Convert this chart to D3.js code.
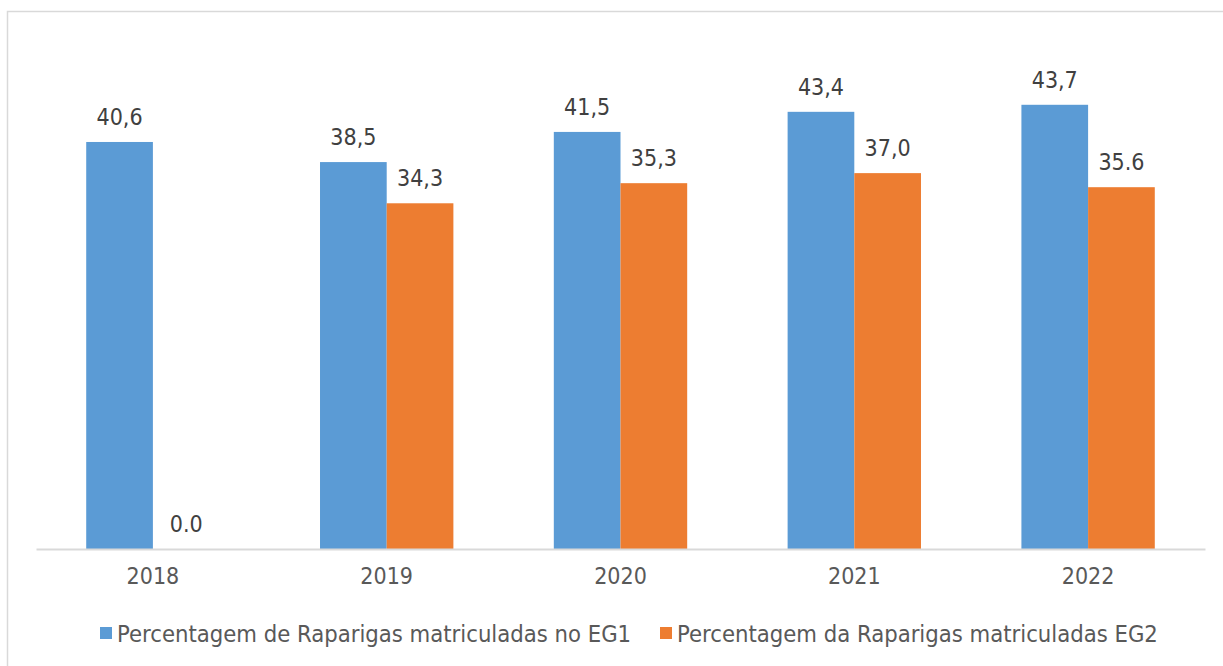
<!DOCTYPE html>
<html>
<head>
<meta charset="utf-8">
<script src="https://cdn.jsdelivr.net/npm/d3@7"></script>
<style>
  html, body { margin: 0; padding: 0; background: #fff; }
  svg { display: block; font-family: "DejaVu Sans Condensed", "DejaVu Sans", sans-serif; font-stretch: condensed; }
</style>
</head>
<body>
<svg id="chart" width="1223" height="666"></svg>
<script>
// dados
var categories = ["2018", "2019", "2020", "2021", "2022"];
var seriesNames = ["Percentagem de Raparigas matriculadas no EG1", "Percentagem da Raparigas matriculadas EG2"];
var eg1Values = [40.5, 38.5, 41.5, 43.5, 44.2];
var eg2Values = [0.0, 34.4, 36.4, 37.4, 36.0];
var eg1Labels = ["40,6", "38,5", "41,5", "43,4", "43,7"];
var eg2Labels = ["0.0", "34,3", "35,3", "37,0", "35.6"];
var colors = ["#5B9BD5", "#ED7D31"];

var svg = d3.select("#chart");

// moldura
svg.append("rect")
  .attr("x", 7.5).attr("y", 11.5)
  .attr("width", 1240).attr("height", 680)
  .attr("fill", "none").attr("stroke", "#D9D9D9").attr("stroke-width", 1.5);

var x0 = d3.scaleBand().domain(categories).range([36, 1205]).padding(0);
var x1 = d3.scaleBand().domain([0, 1]).range([0, x0.bandwidth()]).paddingInner(0).paddingOuter(0.753);
var y = d3.scaleLinear().domain([0, 50]).range([549, 46.5]);

var rows = categories.map(function(c, i) {
  return { cat: c, vals: [
    { s: 0, v: eg1Values[i], t: eg1Labels[i] },
    { s: 1, v: eg2Values[i], t: eg2Labels[i] }
  ]};
});

var g = svg.selectAll(".grp").data(rows).enter().append("g")
  .attr("class", "grp")
  .attr("transform", function(d) { return "translate(" + x0(d.cat) + ",0)"; });

g.selectAll("rect").data(function(d) { return d.vals; }).enter().append("rect")
  .attr("x", function(d) { return x1(d.s); })
  .attr("width", x1.bandwidth())
  .attr("y", function(d) { return y(d.v); })
  .attr("height", function(d) { return y(0) - y(d.v); })
  .attr("fill", function(d) { return colors[d.s]; });

g.selectAll("text.lbl").data(function(d) { return d.vals; }).enter().append("text")
  .attr("class", "lbl")
  .attr("x", function(d) { return x1(d.s) + x1.bandwidth() / 2; })
  .attr("y", function(d) { return y(d.v) - 17; })
  .attr("text-anchor", "middle")
  .attr("font-size", 23)
  .attr("fill", "#404040")
  .text(function(d) { return d.t; });

// eixo x
var xAxis = svg.append("g")
  .attr("transform", "translate(0," + y(0) + ")")
  .call(d3.axisBottom(x0).tickSize(0).tickPadding(19));
xAxis.attr("font-family", null);
xAxis.select(".domain").attr("stroke", "#D9D9D9").attr("stroke-width", 2);
xAxis.selectAll("text")
  .attr("font-size", 23)
  .attr("fill", "#595959");

// legenda
var legendX = [100, 660];
var leg = svg.selectAll(".leg").data(seriesNames).enter().append("g")
  .attr("class", "leg")
  .attr("transform", function(d, i) { return "translate(" + legendX[i] + ",627)"; });
leg.append("rect")
  .attr("width", 12).attr("height", 12)
  .attr("fill", function(d, i) { return colors[i]; });
leg.append("text")
  .attr("x", 17).attr("y", 14.5)
  .attr("font-size", 23.6)
  .attr("fill", "#595959")
  .text(function(d) { return d; });
</script>
</body>
</html>
